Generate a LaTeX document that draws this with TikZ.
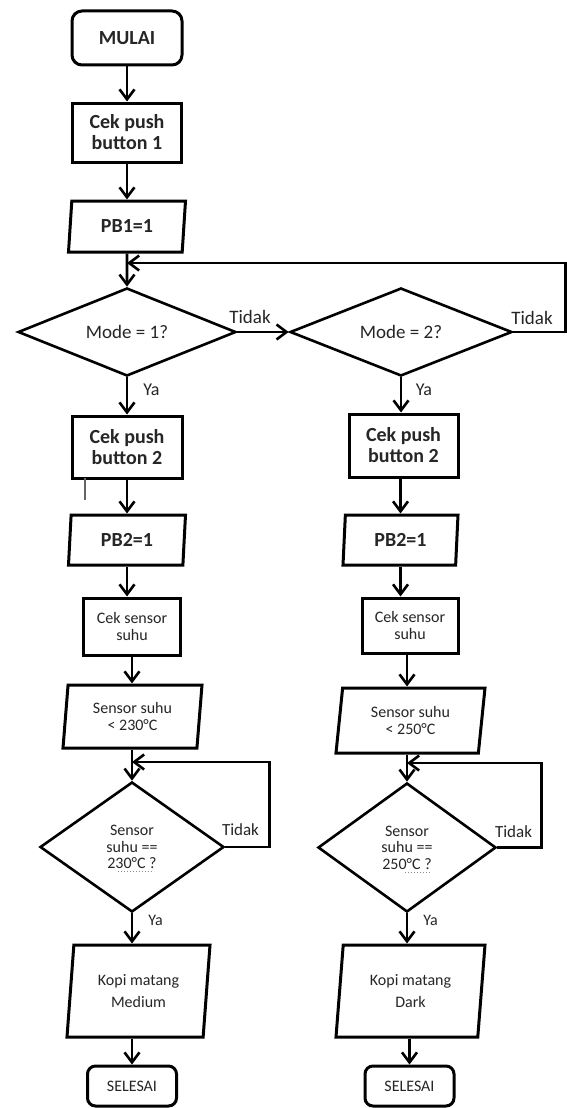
\documentclass[tikz,border=0pt]{standalone}
\usepackage{fontspec}
\setmainfont{Carlito}
\usetikzlibrary{shapes.geometric,arrows.meta}
\begin{document}
\begin{tikzpicture}[x=1pt,y=-1pt,
  base/.style={draw=black, line width=3pt, align=center, text=black!85, inner sep=0pt},
  term/.style={base, rounded corners=10pt},
  proc/.style={base, rectangle},
  io/.style={base, trapezium, trapezium stretches body},
  dec/.style={base, diamond, line width=2.6pt},
  arr/.style={line width=2.6pt, -{Straight Barb[length=10pt,width=15pt]}},
  lab/.style={text=black!85, inner sep=0pt},
  bigf/.style={font=\fontsize{20}{21}\selectfont\bfseries},
  midf/.style={font=\fontsize{19}{20}\selectfont},
  smallf/.style={font=\fontsize{16}{17.5}\selectfont},
]
\useasboundingbox (0,0) rectangle (566,1108);
\fill[white] (0,0) rectangle (566,1108);

% top column
\node[term, minimum width=110, minimum height=54, bigf] (start) at (127,38) {MULAI};
\node[proc, minimum width=109, minimum height=59, bigf] (cpb1) at (127,132.5) {Cek push\\button 1};
\node[io, trapezium left angle=75.7, trapezium right angle=104.3, minimum width=117, minimum height=51, bigf] (pb1) at (127,226.5) {PB1=1};
\node[dec, aspect=2.5, minimum width=218, minimum height=88, midf] (m1) at (127,332) {Mode = 1?};
\node[dec, aspect=2.5, minimum width=222, minimum height=88, midf] (m2) at (401,332) {Mode = 2?};

% left column
\node[proc, minimum width=110, minimum height=62, bigf] (cpbL) at (127,447) {Cek push\\button 2};
\node[io, trapezium left angle=78.7, trapezium right angle=101.3, minimum width=117, minimum height=50, bigf] (pbL) at (127,540) {PB2=1};
\node[proc, minimum width=97, minimum height=57, smallf] (cssL) at (132,626.5) {Cek sensor\\suhu};
\node[io, trapezium left angle=80, trapezium right angle=100, minimum width=139, minimum height=63, smallf] (ssL) at (132.5,716.5) {Sensor suhu\\< 230°C};
\node[dec, aspect=1.4, minimum width=184, minimum height=130, font=\fontsize{16}{16.5}\selectfont] (dL) at (132,847) {Sensor\\suhu ==\\230°C ?};
\node[io, trapezium left angle=78.3, trapezium right angle=101.7, minimum width=143, minimum height=92, font=\fontsize{16}{22}\selectfont] (kL) at (138.5,991) {Kopi matang\\Medium};
\node[term, rounded corners=8pt, minimum width=89, minimum height=40, smallf] (eL) at (132,1086) {SELESAI};

% right column
\node[proc, minimum width=109, minimum height=63, bigf] (cpbR) at (403.5,445.5) {Cek push\\button 2};
\node[io, trapezium left angle=79.8, trapezium right angle=100.2, minimum width=115, minimum height=50, bigf] (pbR) at (400.5,540) {PB2=1};
\node[proc, minimum width=96, minimum height=55, smallf] (cssR) at (410,625.5) {Cek sensor\\suhu};
\node[io, trapezium left angle=77, trapezium right angle=103, minimum width=149, minimum height=65, smallf] (ssR) at (410.5,720.5) {Sensor suhu\\< 250°C};
\node[dec, aspect=1.4, minimum width=178, minimum height=129, font=\fontsize{16}{16.5}\selectfont] (dR) at (407,847.5) {Sensor\\suhu ==\\250°C ?};
\node[io, trapezium left angle=77.7, trapezium right angle=102.3, minimum width=149, minimum height=92, font=\fontsize{16}{22}\selectfont] (kR) at (410.5,991) {Kopi matang\\Dark};
\node[term, rounded corners=8pt, minimum width=89, minimum height=40, smallf] (eR) at (409.5,1086) {SELESAI};

% junction points of the loops
\coordinate (jT) at (127,263);
\coordinate (jL) at (132,762);
\coordinate (jR) at (407,763);

% connectors top
\draw[arr] (start) -- (cpb1);
\draw[arr] (cpb1) -- (pb1);
\draw[arr] (pb1) -- (m1);
\draw[arr] (m1.east) -- (m2.west);
\draw[arr] (m2.east) -- ++(52,0) |- (jT);

% connectors left
\draw[arr] (m1.south) -- (cpbL.north);
\draw[arr] (cpbL) -- (pbL);
\draw[arr] (pbL.south) -- (pbL.south |- cssL.north);
\draw[arr] (cssL) -- (ssL.north -| cssL.south);
\draw[arr] (ssL.south -| dL.north) -- (dL.north);
\draw[arr] (dL.east) -- ++(44,0) |- (jL);
\draw[arr] (dL.south) -- (dL.south |- kL.north);
\draw[arr] (kL.south -| eL.north) -- (eL.north);

% connectors right
\draw[arr] (m2.south) -- (m2.south |- cpbR.north);
\draw[arr] (pbR.north |- cpbR.south) -- (pbR.north);
\draw[arr] (pbR.south) -- (pbR.south |- cssR.north);
\draw[arr] (cssR.south -| dR.north) -- (ssR.north -| dR.north);
\draw[arr] (ssR.south -| dR.north) -- (dR.north);
\draw[arr] (dR.east) -- ++(44,0) |- (jR);
\draw[arr] (dR.south) -- (dR.south |- kR.north);
\draw[arr] (kR.south -| eR.north) -- (eR.north);

% labels
\node[lab, midf] (t1) at (250,317) {Tidak};
\node[lab, midf] (t2) at (532,318) {Tidak};
\node[lab, font=\fontsize{18}{19}\selectfont] (y1) at (151.5,390) {Ya};
\node[lab, font=\fontsize{18}{19}\selectfont] (y2) at (424,390) {Ya};
\node[lab, font=\fontsize{17}{18}\selectfont] (t3) at (240.5,830) {Tidak};
\node[lab, font=\fontsize{17}{18}\selectfont] (t4) at (513.5,832) {Tidak};
\node[lab, smallf] (y3) at (155.5,920) {Ya};
\node[lab, smallf] (y4) at (430.5,920) {Ya};

% small marks
\draw[line width=1.3pt, black!60] (85,478) -- (85,500);
\draw[line width=1pt, black!45, dotted] (118,871) -- (154,871);
\draw[line width=1pt, black!45, dotted] (405,872) -- (431,872);
\end{tikzpicture}
\end{document}
